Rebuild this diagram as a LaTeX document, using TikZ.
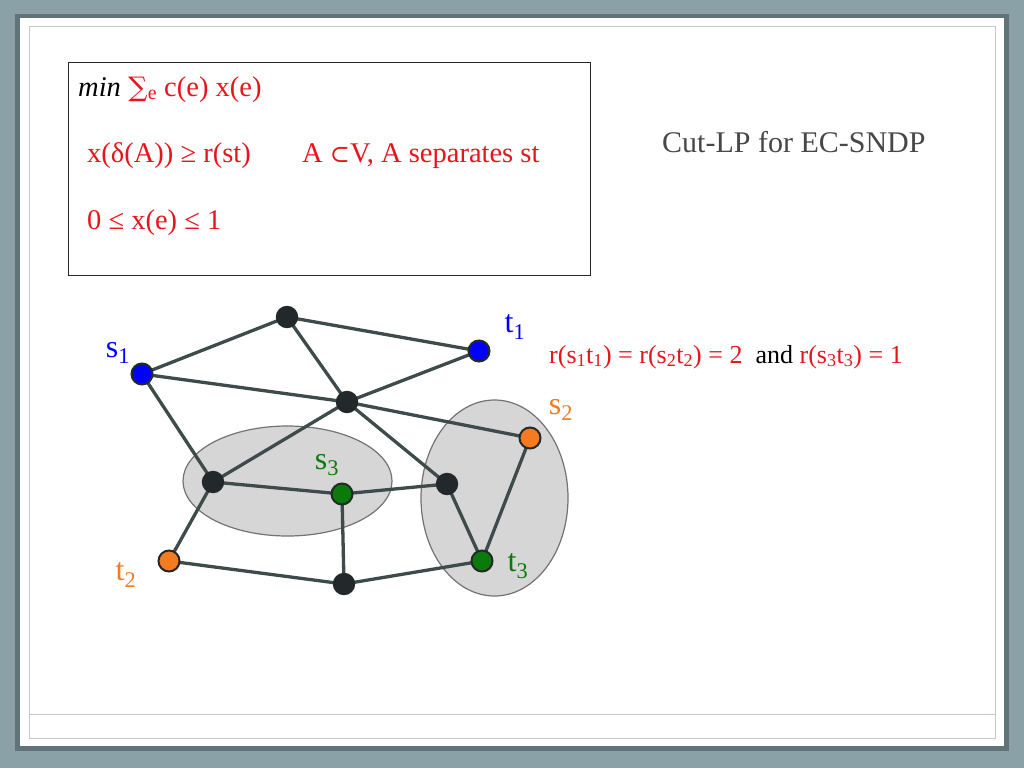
\documentclass[tikz,border=0pt]{standalone}
\usepackage{fontspec}
\setmainfont{Liberation Serif}
\newfontfamily\symf{DejaVu Serif}
\definecolor{bgc}{HTML}{8AA1A8}
\definecolor{shc}{HTML}{5F7378}
\definecolor{framec}{HTML}{C8C8C8}
\definecolor{lpred}{HTML}{E8141B}
\definecolor{edgec}{HTML}{3F4B4B}
\definecolor{darkv}{HTML}{23292A}
\definecolor{bluev}{HTML}{0000FF}
\definecolor{orangev}{HTML}{F47B20}
\definecolor{greenv}{HTML}{0B7A0B}
\definecolor{setc}{HTML}{D6D6D6}
\pgfdeclarelayer{bglayer}
\pgfdeclarelayer{edgelayer}
\pgfsetlayers{bglayer,edgelayer,main}
\tikzset{
  vtx/.style={circle, draw=darkv, line width=1.4pt, inner sep=0pt, minimum size=21pt, fill=darkv},
  cv/.style={circle, draw=darkv, line width=2pt, inner sep=0pt, minimum size=21pt, fill=#1},
  edge/.style={draw=edgec, line width=3.3pt},
  setshape/.style={fill=setc, draw=black!55, line width=1.2pt},
  lbl/.style={font=\fontsize{32}{34}\selectfont, inner sep=0pt},
  lptext/.style={font=\fontsize{28.5}{30}\selectfont, text=lpred, inner sep=0pt, anchor=base west},
}
\begin{document}
\begin{tikzpicture}[x=1pt,y=-1pt]
\useasboundingbox (0,0) rectangle (1024,768);
\begin{pgfonlayer}{bglayer}
\fill[bgc] (0,0) rectangle (1024,768);
\fill[shc] (15,14) rectangle (1009,751);
\fill[white] (20,18) rectangle (1004,746);
\draw[framec, line width=1pt] (29,27) rectangle (995,738);
\draw[framec, line width=1pt] (29,714) -- (995,714);
% sets
\path[setshape] (287.5,481) ellipse [x radius=104.5pt, y radius=55pt];
\path[setshape] (494.5,498) ellipse [x radius=73.5pt, y radius=98pt];
\end{pgfonlayer}

% LP box
\node[draw=black!85, line width=1pt, minimum width=522pt, minimum height=213pt, inner sep=0pt, anchor=north west] (box) at (68,62) {};
\node[lptext, text=black] (l1a) at (78,96) {\textit{min}};
\node[lptext, anchor=base west] (l1b) at (l1a.base east) {\ {\symf\fontsize{27}{28}\selectfont∑}\textsubscript{e}\ c(e) x(e)};
\node[lptext] (l2) at (87,162) {x(δ(A)) ≥ r(st)};
\node[lptext] (l3) at (302,162) {A {\symf\fontsize{24}{26}\selectfont⊂}V, A separates st};
\node[lptext] (l4) at (87,229) {0 ≤ x(e) ≤ 1};

\node[font=\fontsize{30}{32}\selectfont, text=black!72, anchor=base west, inner sep=0pt] (title) at (662,152) {Cut-LP for EC-SNDP};

\node[font=\fontsize{26}{28}\selectfont, anchor=base west, inner sep=0pt] (req) at (549,363)
  {\textcolor{lpred}{r(s\textsubscript{1}t\textsubscript{1}) = r(s\textsubscript{2}t\textsubscript{2}) = 2}\ \ and \textcolor{lpred}{r(s\textsubscript{3}t\textsubscript{3}) = 1}};

% vertices
\node[vtx] (top) at (287,317) {};
\node[cv=bluev] (t1) at (479,351) {};
\node[cv=bluev] (s1) at (142,374) {};
\node[vtx] (c) at (347,402) {};
\node[cv=orangev] (s2) at (530,438) {};
\node[vtx] (l) at (213,482) {};
\node[cv=greenv] (s3) at (342,494) {};
\node[vtx] (r) at (447,484) {};
\node[cv=orangev] (t2) at (169,561) {};
\node[vtx] (b) at (344,584) {};
\node[cv=greenv] (t3) at (482,561) {};

\begin{pgfonlayer}{edgelayer}
\foreach \a/\b in {s1/top, top/t1, top/c, t1/c, s1/c, s1/l, c/l, c/s2, c/r, l/s3, s3/r, r/t3, s2/t3, l/t2, t2/b, s3/b, b/t3}
  \draw[edge] (\a.center) -- (\b.center);
\end{pgfonlayer}

% labels
\node[lbl, text=bluev] (ls1) at (118,353) {s\textsubscript{1}};
\node[lbl, text=bluev] (lt1) at (515,327) {t\textsubscript{1}};
\node[lbl, text=orangev] (ls2) at (561,410) {s\textsubscript{2}};
\node[lbl, text=greenv] (ls3) at (327,465) {s\textsubscript{3}};
\node[lbl, text=orangev] (lt2) at (126,575) {t\textsubscript{2}};
\node[lbl, text=greenv] (lt3) at (518,566) {t\textsubscript{3}};
\end{tikzpicture}
\end{document}
